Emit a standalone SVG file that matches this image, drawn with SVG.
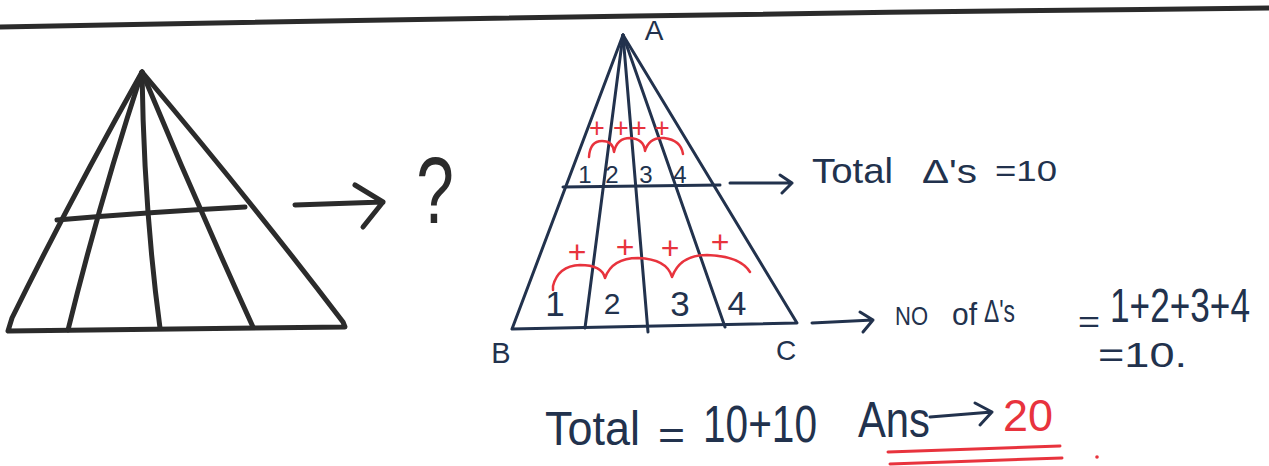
<svg xmlns="http://www.w3.org/2000/svg" width="1269" height="466" viewBox="0 0 1269 466">
<style>
.k{fill:none;stroke:#2b2b2b;stroke-width:5;stroke-linecap:round;stroke-linejoin:round}
.n{fill:none;stroke:#22324d;stroke-width:3;stroke-linecap:round;stroke-linejoin:round}
.r{fill:none;stroke:#e8333d;stroke-width:2.5;stroke-linecap:round;stroke-linejoin:round}
.t{font-family:"Liberation Sans",Arial,sans-serif;fill:#22324d}
.rt{font-family:"Liberation Sans",Arial,sans-serif;fill:#e8333d}
</style>
<rect width="1269" height="466" fill="#ffffff"/>
<path class="k" d="M0,27 Q600,15 1269,8"/>
<g id="left-triangle">
<path class="k" d="M142,72 Q70,200 12,318 L8,331 L345,327 L343,322 Q250,200 142,72"/>
<path class="k" d="M142,72 Q100,200 68,330"/>
<path class="k" d="M142,72 Q144,210 160,328"/>
<path class="k" d="M142,72 Q195,200 253,327"/>
<path class="k" d="M57,220 Q150,212 245,207"/>
</g>
<g id="connectors">
<path class="k" d="M295,205 L383,202 M355,185 L383,202 L363,227"/>
<path class="n" d="M730,183 L792,183 M780,175 L792,183 L782,193"/>
<path class="n" d="M812,323 L873,320 M860,312 L873,320 L863,332"/>
<path class="n" d="M930,417 L992,412 M975,403 L992,412 L980,425"/>
</g>
<g id="question">
<text class="t" transform="translate(435,223) scale(0.72,1)" x="0" y="0" font-size="94" text-anchor="middle" style="fill:#2b2b2b">?</text>
</g>
<g id="right-triangle">
<path class="n" d="M623,35 L512,329 L797,323 L623,35"/>
<path class="n" d="M623,35 L585,328"/>
<path class="n" d="M623,35 L648,332"/>
<path class="n" d="M623,35 L725,327"/>
<path class="n" d="M563,187 L720,185"/>
<text class="t" x="654" y="40" font-size="28" text-anchor="middle">A</text>
<text class="t" x="501" y="363" font-size="29" text-anchor="middle">B</text>
<text class="t" x="786" y="360" font-size="28" text-anchor="middle">C</text>
</g>
<g id="upper-count">
<text class="t" x="585" y="183" font-size="24" text-anchor="middle">1</text>
<text class="t" x="612" y="183" font-size="24" text-anchor="middle">2</text>
<text class="t" x="646" y="183" font-size="24" text-anchor="middle">3</text>
<text class="t" x="680" y="183" font-size="24" text-anchor="middle">4</text>
<path class="r" d="M589,157 Q590,141 602,141 Q613,141 614,152 Q617,138 630,138 Q644,139 645,151 Q649,137 664,138 Q681,140 683,154"/>
<text class="rt" x="597" y="137" font-size="27" text-anchor="middle">+</text>
<text class="rt" x="621" y="137" font-size="27" text-anchor="middle">+</text>
<text class="rt" x="639" y="137" font-size="27" text-anchor="middle">+</text>
<text class="rt" x="662" y="137" font-size="27" text-anchor="middle">+</text>
</g>
<g id="lower-count">
<text class="t" x="555" y="316" font-size="35" text-anchor="middle">1</text>
<text class="t" x="612" y="314" font-size="30" text-anchor="middle">2</text>
<text class="t" x="680" y="316" font-size="35" text-anchor="middle">3</text>
<text class="t" x="737" y="315" font-size="34" text-anchor="middle">4</text>
<path class="r" d="M553,290 L553,286 Q558,266 580,265 Q602,265 605,278 Q612,258 638,258 Q667,259 672,277 Q680,255 707,255 Q740,256 750,272"/>
<text class="rt" x="577" y="263" font-size="32" text-anchor="middle">+</text>
<text class="rt" x="625" y="258" font-size="32" text-anchor="middle">+</text>
<text class="rt" x="670" y="259" font-size="32" text-anchor="middle">+</text>
<text class="rt" x="720" y="253" font-size="32" text-anchor="middle">+</text>
</g>
<g id="text-upper">
<text class="t" x="812" y="183" font-size="35" textLength="81" lengthAdjust="spacingAndGlyphs">Total</text>
<text class="t" x="922" y="183" font-size="34" textLength="55" lengthAdjust="spacingAndGlyphs">Δ's</text>
<text class="t" x="995" y="181" font-size="29" textLength="62" lengthAdjust="spacingAndGlyphs">=10</text>
</g>
<g id="text-lower">
<text class="t" x="895" y="325" font-size="25" textLength="33" lengthAdjust="spacingAndGlyphs">NO</text>
<text class="t" x="952" y="325" font-size="32" textLength="25" lengthAdjust="spacingAndGlyphs">of</text>
<text class="t" x="984" y="322" font-size="32" textLength="31" lengthAdjust="spacingAndGlyphs">Δ's</text>
<text class="t" x="1078" y="332" font-size="30" textLength="22" lengthAdjust="spacingAndGlyphs">=</text>
<text class="t" transform="translate(1110,322) scale(1,1.25)" x="0" y="0" font-size="38" textLength="140" lengthAdjust="spacingAndGlyphs">1+2+3+4</text>
<text class="t" x="1098" y="367" font-size="35" textLength="89" lengthAdjust="spacingAndGlyphs">=10.</text>
</g>
<g id="text-total">
<text class="t" x="545" y="445" font-size="48" textLength="95" lengthAdjust="spacingAndGlyphs">Total</text>
<text class="t" x="658" y="449" font-size="40" textLength="27" lengthAdjust="spacingAndGlyphs">=</text>
<text class="t" x="703" y="442" font-size="51" textLength="114" lengthAdjust="spacingAndGlyphs">10+10</text>
<text class="t" x="858" y="437" font-size="50" textLength="72" lengthAdjust="spacingAndGlyphs">Ans</text>
<text class="rt" x="1003" y="431" font-size="45" textLength="50" lengthAdjust="spacingAndGlyphs">20</text>
<path class="r" style="stroke-width:3" d="M888,452 L1060,446 M890,464 L1062,458"/>
<circle cx="1097" cy="457" r="1.8" fill="#e8333d"/>
</g>
</svg>
